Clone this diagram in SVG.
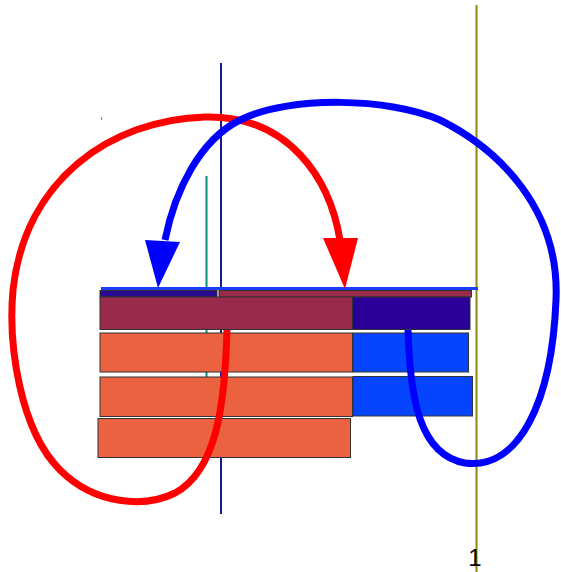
<svg xmlns="http://www.w3.org/2000/svg" width="561" height="572" viewBox="0 0 561 572">
<style>
.bar{stroke:#333;stroke-width:1}
.or{fill:#ea6240}
.bl{fill:#0645ff}
.curve{fill:none;stroke-width:7;stroke-linecap:butt}
</style>
<rect width="561" height="572" fill="#fff"/>
<g id="axes">
<line x1="221" y1="63" x2="221" y2="514" stroke="#1a1a8c" stroke-width="2"/>
<line x1="206.5" y1="176" x2="206.5" y2="378" stroke="#0a8a80" stroke-width="2"/>
<line x1="476.5" y1="5" x2="476.5" y2="572" stroke="#8a8a10" stroke-width="2"/>
<line x1="101.5" y1="117.5" x2="101.5" y2="119.5" stroke="#f00" stroke-width="1"/>
</g>
<g id="bars">
<rect class="bar" x="100" y="290.5" width="117" height="6.5" fill="#2a0a90"/>
<rect class="bar" x="219" y="290.5" width="252.5" height="6.5" fill="#992a4b"/>
<rect class="bar" x="100" y="297" width="252.5" height="32.5" fill="#992a4b"/>
<rect class="bar" x="352.5" y="297" width="117.5" height="32.5" fill="#2b0099"/>
<rect class="bar or" x="100" y="333" width="252.5" height="39"/>
<rect class="bar bl" x="353" y="333" width="115.5" height="39"/>
<rect class="bar or" x="100" y="377" width="252.5" height="39.5"/>
<rect class="bar bl" x="353" y="376.5" width="119.5" height="39.5"/>
<rect class="bar or" x="98" y="418.5" width="252.5" height="39"/>
<line x1="101" y1="288.5" x2="478" y2="288.5" stroke="#1a3cff" stroke-width="3"/>
</g>
<g id="connectors">
<path class="curve" stroke="#f00" d="M 227 330 C 225 400, 218 470, 175 493 C 145 508, 95 505, 60 470 C 20 430, 8 345, 13 290 C 25 180, 110 120, 205 117 C 290 115, 330 180, 340 240"/>
<polygon points="323,238 358,238 345,289" fill="#f00"/>
<path class="curve" stroke="#00f" d="M 408 330 C 410 400, 420 455, 465 463 C 520 470, 552 400, 556 300 C 560 210, 500 150, 440 120 C 390 98, 290 95, 240 120 C 200 140, 175 190, 165 240"/>
<polygon points="145,240 180,242 158,288" fill="#00f"/>
</g>
<text x="475" y="566" font-family="Liberation Sans, Arial, sans-serif" font-size="24" text-anchor="middle" fill="#000">1</text>
</svg>
